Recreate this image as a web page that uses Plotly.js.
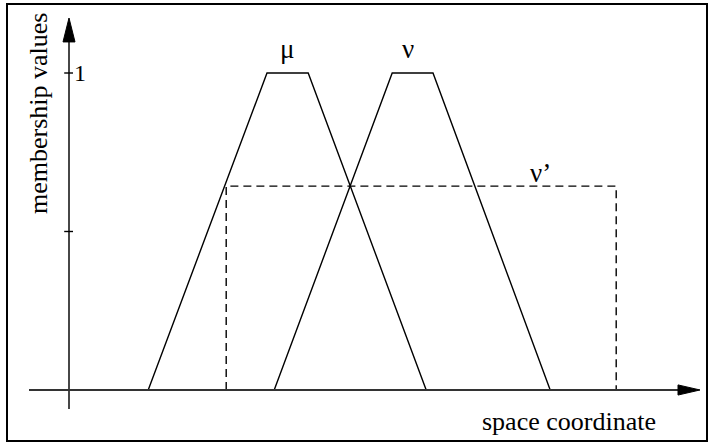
<!DOCTYPE html>
<html>
<head>
<meta charset="utf-8">
<script src="https://cdn.plot.ly/plotly-3.0.1.min.js"></script>
<style>
  html, body { margin: 0; padding: 0; background: #fff; }
  #wrap { position: relative; width: 712px; height: 447px; }
  #frame { position: absolute; left: 6px; top: 3px; width: 698px; height: 435px; border: 2px solid #000; }
  #chart { position: absolute; left: 0; top: 0; width: 712px; height: 447px; }
</style>
</head>
<body>
<div id="wrap">
  <div id="frame"></div>
  <div id="chart"></div>
</div>
<script>
// Membership functions over the space coordinate
const muX = [1.98, 4.95, 5.98, 8.93];
const muY = [0, 1, 1, 0];
const nuX = [5.13, 8.08, 9.1, 12.03];
const nuY = [0, 1, 1, 0];
// Rectangular approximation nu'
const nuPrimeX = [3.93, 3.93, 13.68, 13.68];
const nuPrimeY = [0, 0.643, 0.643, 0];

// Curve labels
const labelText = ['μ', 'ν', 'ν’'];
const labelX = [5.45, 8.47, 11.78];
const labelY = [1.075, 1.075, 0.685];

// Axis ticks
const tickVals = [0.5, 1];
const tickText = ['', '1'];

const xRange = [-1, 15.775];
const yRange = [-0.06, 1.1735];

const serif = '"Liberation Serif", "Times New Roman", serif';

const traces = [
  { x: muX, y: muY, mode: 'lines', line: { color: '#000', width: 1.4 }, hoverinfo: 'skip' },
  { x: nuX, y: nuY, mode: 'lines', line: { color: '#000', width: 1.4 }, hoverinfo: 'skip' },
  { x: nuPrimeX, y: nuPrimeY, mode: 'lines', line: { color: '#000', width: 1.4, dash: '8px,5px' }, hoverinfo: 'skip' }
];

const axisColor = '#333';
const shapes = [
  // vertical axis with arrow
  { type: 'line', xref: 'x', yref: 'y', x0: 0, x1: 0, y0: yRange[0], y1: 1.1, line: { color: axisColor, width: 1.8 } },
  { type: 'path', xref: 'x', yref: 'y', path: `M -0.15 1.098 L 0 ${yRange[1]} L 0.15 1.098 Z`, fillcolor: '#000', line: { color: '#000', width: 1 } },
  // horizontal axis with arrow
  { type: 'line', xref: 'x', yref: 'y', x0: xRange[0], x1: 15.3, y0: 0, y1: 0, line: { color: axisColor, width: 1.8 } },
  { type: 'path', xref: 'x', yref: 'y', path: `M 15.225 -0.016 L ${xRange[1]} 0 L 15.225 0.016 Z`, fillcolor: '#000', line: { color: '#000', width: 1 } }
];
// small tick marks on the vertical axis
tickVals.forEach(v => {
  shapes.push({ type: 'line', xref: 'x', yref: 'y', x0: -0.12, x1: 0.1, y0: v, y1: v, line: { color: '#000', width: 1.4 } });
});

const annotations = [];
labelText.forEach((t, i) => {
  annotations.push({ x: labelX[i], y: labelY[i], xref: 'x', yref: 'y', text: t, showarrow: false,
    font: { family: serif, size: 27, color: '#000' } });
});
tickVals.forEach((v, i) => {
  if (tickText[i]) {
    annotations.push({ x: 0.07, y: v, xref: 'x', yref: 'y', text: tickText[i], showarrow: false,
      xanchor: 'left', yanchor: 'middle', font: { family: serif, size: 24, color: '#000' } });
  }
});
// axis titles
annotations.push({ x: 0.805, y: -0.033, xref: 'paper', yref: 'paper', text: 'space coordinate', showarrow: false,
  xanchor: 'center', yanchor: 'middle', font: { family: serif, size: 26, color: '#000' } });
annotations.push({ x: 0.0134, y: 0.757, xref: 'paper', yref: 'paper', text: 'membership values', showarrow: false,
  textangle: -90, xanchor: 'center', yanchor: 'middle', font: { family: serif, size: 26, color: '#000' } });

const layout = {
  width: 712, height: 447,
  margin: { l: 29, r: 12, t: 18, b: 38, pad: 0 },
  paper_bgcolor: 'rgba(0,0,0,0)',
  plot_bgcolor: 'rgba(0,0,0,0)',
  showlegend: false,
  xaxis: { range: xRange, visible: false, fixedrange: true },
  yaxis: { range: yRange, visible: false, fixedrange: true },
  shapes: shapes,
  annotations: annotations
};

Plotly.newPlot('chart', traces, layout, { displayModeBar: false, staticPlot: true });
</script>
</body>
</html>
